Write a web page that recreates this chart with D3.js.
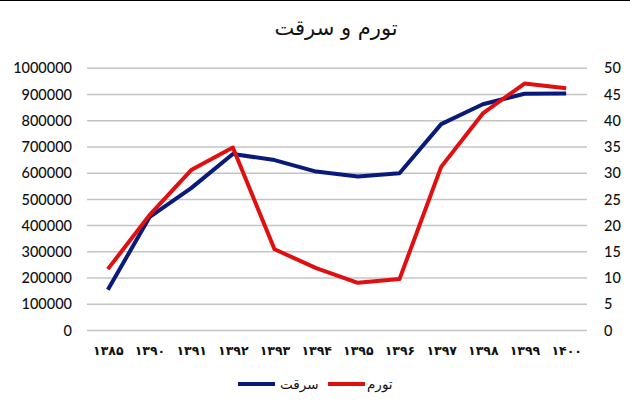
<!DOCTYPE html>
<html><head><meta charset="utf-8">
<script src="https://cdn.jsdelivr.net/npm/d3@7"></script>
<style>body{margin:0;background:#fff}svg{display:block}</style>
</head><body>
<svg id="c" width="630" height="412"></svg>
<script>
const categories = ["۱۳۸۵","۱۳۹۰","۱۳۹۱","۱۳۹۲","۱۳۹۳","۱۳۹۴","۱۳۹۵","۱۳۹۶","۱۳۹۷","۱۳۹۸","۱۳۹۹","۱۴۰۰"];
const theft = [155000,432000,543000,673000,650000,606000,587000,600000,787000,863000,903000,904000];
const inflation = [11.7,22.0,30.6,34.9,15.5,11.9,9.1,9.8,31.2,41.4,47.1,46.2];
const leftTicks = [0,100000,200000,300000,400000,500000,600000,700000,800000,900000,1000000];
const rightTicks = [0,5,10,15,20,25,30,35,40,45,50];
const title = "تورم و سرقت";
const seriesNames = ["سرقت","تورم"];
const colors = ["#0a1a7a","#e01010"];

const svg = d3.select("#c");
svg.append("rect").attr("x",0).attr("y",0).attr("width",630).attr("height",1).attr("fill","#000");
const L=87, R=587, T=68.3, B=330.5;
const x = d3.scalePoint().domain(categories).range([L,R]).padding(0.5);
const yL = d3.scaleLinear().domain([0,1000000]).range([B,T]);
const yR = d3.scaleLinear().domain([0,50]).range([B,T]);

svg.append("g").selectAll("line").data(leftTicks).join("line")
  .attr("x1",L).attr("x2",R).attr("y1",d=>yL(d)).attr("y2",d=>yL(d))
  .attr("stroke","#c4c4c4").attr("stroke-width",1.5);

const gl = svg.append("g").attr("transform",`translate(${L},0)`)
  .call(d3.axisLeft(yL).tickValues(leftTicks).tickFormat(d3.format("d")).tickSize(0).tickPadding(15));
gl.select(".domain").remove();
gl.selectAll("text").attr("font-family","Lato, 'Open Sans', sans-serif").attr("font-size",14.5).attr("font-weight",500).attr("fill","#111");

const gr = svg.append("g").attr("transform",`translate(${R},0)`)
  .call(d3.axisRight(yR).tickValues(rightTicks).tickSize(0).tickPadding(17));
gr.select(".domain").remove();
gr.selectAll("text").attr("font-family","Lato, 'Open Sans', sans-serif").attr("font-size",14.5).attr("font-weight",500).attr("fill","#111");

const gx = svg.append("g").attr("transform",`translate(0,${B})`)
  .call(d3.axisBottom(x).tickSize(0).tickPadding(16));
gx.select(".domain").remove();
gx.selectAll("text").attr("font-family","'DejaVu Sans', sans-serif").attr("font-weight","bold").attr("font-size",12.5).attr("fill","#111");

const line = (ys, data) => d3.line().x((d,i)=>x(categories[i])).y(d=>ys(d))(data);
svg.append("path").attr("d",line(yL,theft)).attr("fill","none").attr("stroke",colors[0]).attr("stroke-width",4).attr("stroke-linejoin","round");
svg.append("path").attr("d",line(yR,inflation)).attr("fill","none").attr("stroke",colors[1]).attr("stroke-width",4).attr("stroke-linejoin","round");

svg.append("text").attr("x",336).attr("y",35).attr("text-anchor","middle")
  .attr("font-family","'DejaVu Sans', sans-serif").attr("font-size",21).attr("fill","#111").text(title);

// legend
const lg = svg.append("g");
lg.append("line").attr("x1",238).attr("x2",275).attr("y1",384).attr("y2",384).attr("stroke",colors[0]).attr("stroke-width",4);
lg.append("text").attr("x",280).attr("y",389).attr("direction","rtl")
  .attr("font-family","'DejaVu Sans', sans-serif").attr("font-size",13.5).attr("fill","#111").text(seriesNames[0]).attr("text-anchor","end");
lg.append("line").attr("x1",328).attr("x2",365).attr("y1",384).attr("y2",384).attr("stroke",colors[1]).attr("stroke-width",4);
lg.append("text").attr("x",367).attr("y",389).attr("direction","rtl")
  .attr("font-family","'DejaVu Sans', sans-serif").attr("font-size",13.5).attr("fill","#111").text(seriesNames[1]).attr("text-anchor","end");
</script>
</body></html>
